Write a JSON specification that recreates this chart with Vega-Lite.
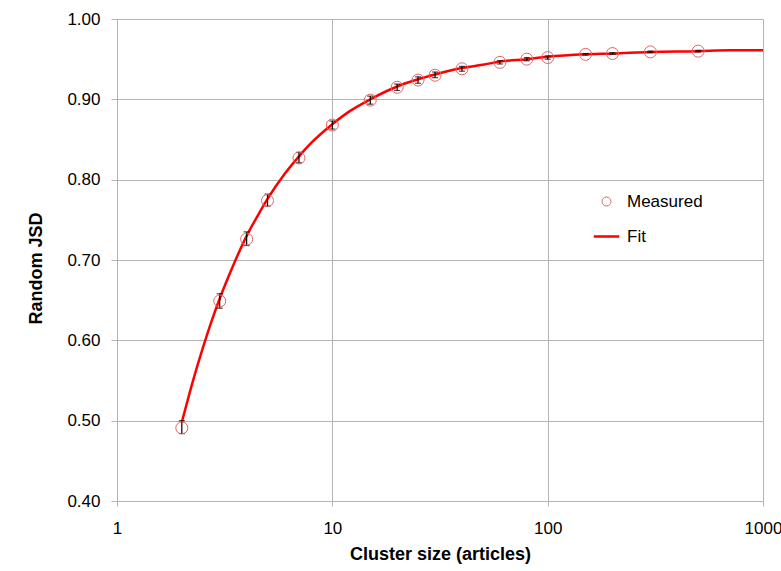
{
  "$schema": "https://vega.github.io/schema/vega-lite/v6.json",
  "autosize": {"type": "none"},
  "padding": {"left": 117, "top": 19, "right": 18, "bottom": 70},
  "width": 646,
  "height": 482,
  "config": {
    "font": "Liberation Sans",
    "view": {"stroke": null},
    "axis": {
      "labelFont": "Liberation Sans",
      "titleFont": "Liberation Sans",
      "labelFontSize": 17,
      "titleFontSize": 18,
      "titleFontWeight": "bold",
      "labelColor": "#000000",
      "titleColor": "#000000",
      "gridColor": "#b3b3b3",
      "gridWidth": 1,
      "domainColor": "#b3b3b3",
      "tickColor": "#b3b3b3",
      "gridOpacity": 1
    }
  },
  "datasets": {
    "measured": [
      {"x": 2, "y": 0.491, "lo": 0.484, "hi": 0.500, "series": "Measured"},
      {"x": 3, "y": 0.649, "lo": 0.640, "hi": 0.658, "series": "Measured"},
      {"x": 4, "y": 0.726, "lo": 0.718, "hi": 0.735, "series": "Measured"},
      {"x": 5, "y": 0.774, "lo": 0.767, "hi": 0.782, "series": "Measured"},
      {"x": 7, "y": 0.827, "lo": 0.821, "hi": 0.834, "series": "Measured"},
      {"x": 10, "y": 0.868, "lo": 0.863, "hi": 0.873, "series": "Measured"},
      {"x": 15, "y": 0.899, "lo": 0.894, "hi": 0.904, "series": "Measured"},
      {"x": 20, "y": 0.915, "lo": 0.911, "hi": 0.919, "series": "Measured"},
      {"x": 25, "y": 0.924, "lo": 0.920, "hi": 0.928, "series": "Measured"},
      {"x": 30, "y": 0.930, "lo": 0.927, "hi": 0.934, "series": "Measured"},
      {"x": 40, "y": 0.938, "lo": 0.935, "hi": 0.941, "series": "Measured"},
      {"x": 60, "y": 0.946, "lo": 0.944, "hi": 0.948, "series": "Measured"},
      {"x": 80, "y": 0.950, "lo": 0.948, "hi": 0.952, "series": "Measured"},
      {"x": 100, "y": 0.952, "lo": 0.950, "hi": 0.954, "series": "Measured"},
      {"x": 150, "y": 0.956, "lo": 0.955, "hi": 0.957, "series": "Measured"},
      {"x": 200, "y": 0.957, "lo": 0.956, "hi": 0.958, "series": "Measured"},
      {"x": 300, "y": 0.959, "lo": 0.958, "hi": 0.960, "series": "Measured"},
      {"x": 500, "y": 0.960, "lo": 0.959, "hi": 0.961, "series": "Measured"}
    ],
    "fit": [
      {"x": 2, "fit": 0.498, "series": "Fit"},
      {"x": 2.25, "fit": 0.549, "series": "Fit"},
      {"x": 2.5, "fit": 0.590, "series": "Fit"},
      {"x": 2.75, "fit": 0.624, "series": "Fit"},
      {"x": 3, "fit": 0.652, "series": "Fit"},
      {"x": 3.5, "fit": 0.696, "series": "Fit"},
      {"x": 4, "fit": 0.730, "series": "Fit"},
      {"x": 4.5, "fit": 0.755, "series": "Fit"},
      {"x": 5, "fit": 0.776, "series": "Fit"},
      {"x": 6, "fit": 0.807, "series": "Fit"},
      {"x": 7, "fit": 0.829, "series": "Fit"},
      {"x": 8, "fit": 0.846, "series": "Fit"},
      {"x": 10, "fit": 0.869, "series": "Fit"},
      {"x": 12, "fit": 0.885, "series": "Fit"},
      {"x": 15, "fit": 0.900, "series": "Fit"},
      {"x": 20, "fit": 0.916, "series": "Fit"},
      {"x": 25, "fit": 0.925, "series": "Fit"},
      {"x": 30, "fit": 0.931, "series": "Fit"},
      {"x": 40, "fit": 0.939, "series": "Fit"},
      {"x": 50, "fit": 0.943, "series": "Fit"},
      {"x": 60, "fit": 0.947, "series": "Fit"},
      {"x": 80, "fit": 0.950, "series": "Fit"},
      {"x": 100, "fit": 0.953, "series": "Fit"},
      {"x": 150, "fit": 0.956, "series": "Fit"},
      {"x": 200, "fit": 0.957, "series": "Fit"},
      {"x": 300, "fit": 0.959, "series": "Fit"},
      {"x": 500, "fit": 0.960, "series": "Fit"},
      {"x": 700, "fit": 0.961, "series": "Fit"},
      {"x": 1000, "fit": 0.961, "series": "Fit"}
    ]
  },
  "encoding": {
    "x": {
      "field": "x",
      "type": "quantitative",
      "scale": {"type": "log", "domain": [1, 1000], "nice": false},
      "axis": {
        "title": "Cluster size (articles)",
        "values": [1, 10, 100, 1000],
        "format": "d",
        "tickSize": 5,
        "labelPadding": 14,
        "labelFlush": false,
        "titleY": 44,
        "titleBaseline": "top"
      }
    }
  },
  "layer": [
    {
      "data": {"name": "fit"},
      "mark": {"type": "line", "strokeWidth": 2.5, "interpolate": "monotone"},
      "encoding": {
        "y": {
          "field": "fit",
          "type": "quantitative",
          "title": "Random JSD",
          "scale": {"domain": [0.4, 1.0], "nice": false, "zero": false},
          "axis": {
            "title": "Random JSD",
            "values": [0.4, 0.5, 0.6, 0.7, 0.8, 0.9, 1.0],
            "format": ".2f",
            "tickSize": 6,
            "labelPadding": 11,
            "labelFlush": false,
            "titleX": -72,
            "titleY": 249
          }
        },
        "color": {
          "field": "series",
          "type": "nominal",
          "scale": {"domain": ["Measured", "Fit"], "range": ["#e06666", "#ff0000"]},
          "legend": {
            "title": null,
            "orient": "none",
            "legendX": 481,
            "legendY": 174,
            "padding": 0,
            "symbolSize": 650,
            "rowPadding": 17,
            "labelOffset": 12,
            "labelFontSize": 17,
            "labelFont": "Liberation Sans",
            "labelColor": "#000000",
            "encode": {
              "symbols": {
                "update": {
                  "shape": {"signal": "datum.value === 'Fit' ? 'stroke' : 'circle'"},
                  "size": {"signal": "datum.value === 'Fit' ? 650 : 81"},
                  "fill": {"value": "transparent"},
                  "stroke": {"signal": "datum.value === 'Fit' ? '#ff0000' : '#e06666'"},
                  "strokeWidth": {"signal": "datum.value === 'Fit' ? 2.5 : 1"}
                }
              }
            }
          }
        }
      }
    },
    {
      "data": {"name": "measured"},
      "mark": {"type": "errorbar", "ticks": {"size": 6}, "color": "#000000", "thickness": 1.2},
      "encoding": {
        "y": {"field": "lo", "type": "quantitative", "title": "Random JSD"},
        "y2": {"field": "hi"}
      }
    },
    {
      "data": {"name": "measured"},
      "mark": {"type": "point", "filled": false, "size": 144, "strokeWidth": 1, "opacity": 1},
      "encoding": {
        "y": {"field": "y", "type": "quantitative", "title": "Random JSD"},
        "color": {"field": "series", "type": "nominal"}
      }
    }
  ]
}
